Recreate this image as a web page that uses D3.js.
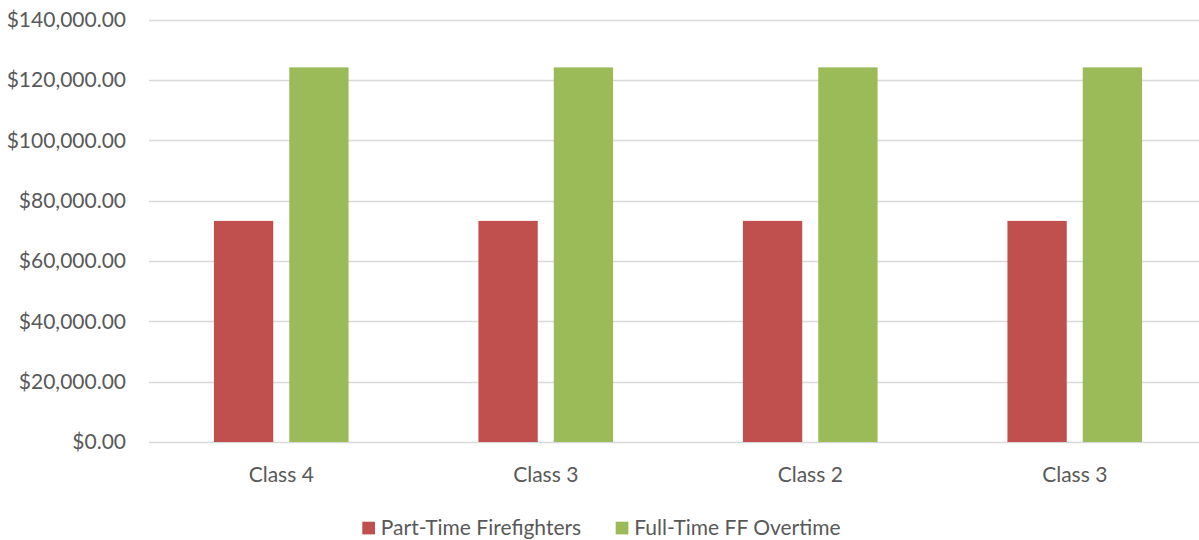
<!DOCTYPE html>
<html>
<head>
<meta charset="utf-8">
<script src="https://cdn.jsdelivr.net/npm/d3@7"></script>
<style>
  html, body { margin: 0; padding: 0; background: #fff; overflow: hidden; }
  svg { display: block; }
  text { font-family: Lato, "Open Sans", sans-serif; fill: #595959; }
</style>
</head>
<body>
<svg id="chart" width="1199" height="540"></svg>
<script>
// Categories and series
const categories = ["Class 4", "Class 3", "Class 2", "Class 3"];
const seriesNames = ["Part-Time Firefighters", "Full-Time FF Overtime"];
const partTime = [73300, 73300, 73300, 73300];
const fullTimeOT = [124200, 124200, 124200, 124200];
const yTicks = [0, 20000, 40000, 60000, 80000, 100000, 120000, 140000];
const colors = ["#C0504D", "#9BBB59"];

const svg = d3.select("#chart");
const margin = { left: 149, top: 19.7, bottom: 442 };
const plotWidth = 1058;
const fontSize = 21;

const x = d3.scaleBand()
  .domain(d3.range(categories.length))
  .range([margin.left, margin.left + plotWidth])
  .paddingInner(0)
  .paddingOuter(0);

const inner = d3.scaleBand()
  .domain([0, 1])
  .range([0, x.bandwidth()])
  .paddingInner(0.2125)
  .paddingOuter(0.862);

const y = d3.scaleLinear()
  .domain([0, 140000])
  .range([margin.bottom, margin.top]);

const fmt = v => "$" + d3.format(",.2f")(v);

// Gridlines
svg.append("g")
  .selectAll("line")
  .data(yTicks)
  .join("line")
  .attr("x1", margin.left)
  .attr("x2", margin.left + plotWidth)
  .attr("y1", d => Math.round(y(d)) + 0.5)
  .attr("y2", d => Math.round(y(d)) + 0.5)
  .attr("stroke", "#D9D9D9")
  .attr("stroke-width", 1.3);

// Y axis labels
const yAxis = d3.axisLeft(y).tickValues(yTicks).tickFormat(fmt).tickSize(0).tickPadding(0);
const yg = svg.append("g")
  .attr("transform", `translate(126,0)`)
  .call(yAxis);
yg.select(".domain").remove();
yg.selectAll("text")
  .attr("font-size", fontSize)
  .attr("font-family", "Lato, 'Open Sans', sans-serif")
  .attr("fill", "#595959");

// Bars
const series = [partTime, fullTimeOT];
const groups = svg.append("g")
  .selectAll("g")
  .data(categories.map((c, i) => i))
  .join("g")
  .attr("transform", i => `translate(${x(i)},0)`);

groups.selectAll("rect")
  .data(i => series.map((s, k) => ({ k, v: s[i] })))
  .join("rect")
  .attr("x", d => inner(d.k))
  .attr("width", inner.bandwidth())
  .attr("y", d => y(d.v))
  .attr("height", d => y(0) - y(d.v))
  .attr("fill", d => colors[d.k]);

// X axis labels
const xAxis = d3.axisBottom(x).tickFormat(i => categories[i]).tickSize(0).tickPadding(0);
const xg = svg.append("g")
  .attr("transform", `translate(0,467)`)
  .call(xAxis);
xg.select(".domain").remove();
xg.selectAll("text")
  .attr("font-size", fontSize)
  .attr("font-family", "Lato, 'Open Sans', sans-serif")
  .attr("fill", "#595959");

// Legend
const legendX = [362.3, 615.7];
const legend = svg.append("g")
  .selectAll("g")
  .data(seriesNames)
  .join("g")
  .attr("transform", (d, i) => `translate(${legendX[i]},0)`);
legend.append("rect")
  .attr("x", 0).attr("y", 521.7)
  .attr("width", 12.7).attr("height", 12.7)
  .attr("fill", (d, i) => colors[i]);
legend.append("text")
  .attr("x", 18.5)
  .attr("y", 528)
  .attr("dy", "0.35em")
  .attr("font-size", fontSize)
  .text(d => d);
</script>
</body>
</html>
